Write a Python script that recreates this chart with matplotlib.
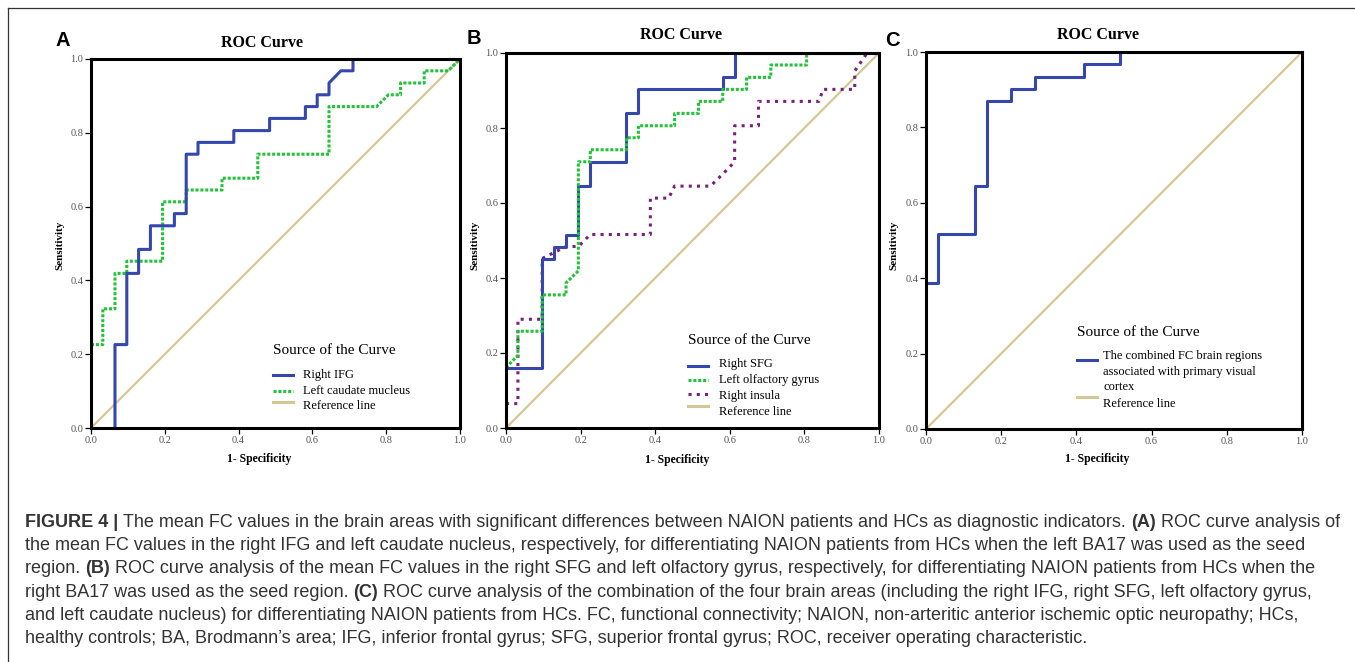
import matplotlib
matplotlib.use("Agg")
import matplotlib.pyplot as plt
from matplotlib.lines import Line2D

W, H = 1355, 662

# ---- data (ROC step paths) ----
# A: right IFG / left caudate nucleus
a_ifg_x = [0.065, 0.065, 0.097, 0.097, 0.129, 0.129, 0.161, 0.161, 0.226, 0.226, 0.258, 0.258, 0.290,
           0.290, 0.387, 0.387, 0.484, 0.484, 0.581, 0.581, 0.613, 0.613, 0.645, 0.645, 0.677, 0.710, 0.710, 1.0]
a_ifg_y = [0, 0.226, 0.226, 0.419, 0.419, 0.484, 0.484, 0.548, 0.548, 0.581, 0.581, 0.742, 0.742,
           0.774, 0.774, 0.806, 0.806, 0.839, 0.839, 0.871, 0.871, 0.903, 0.903, 0.935, 0.968, 0.968, 1.0, 1.0]
a_caud_x = [0, 0.032, 0.032, 0.065, 0.065, 0.097, 0.097, 0.194, 0.194, 0.258, 0.258, 0.355, 0.355,
            0.452, 0.452, 0.645, 0.645, 0.774, 0.806, 0.839, 0.839, 0.903, 0.903, 0.968, 1.0]
a_caud_y = [0.226, 0.226, 0.323, 0.323, 0.419, 0.419, 0.452, 0.452, 0.613, 0.613, 0.645, 0.645, 0.677,
            0.677, 0.742, 0.742, 0.871, 0.871, 0.903, 0.903, 0.935, 0.935, 0.968, 0.968, 1.0]

# B: right SFG / left olfactory gyrus / right insula
b_sfg_x = [0, 0.097, 0.097, 0.129, 0.129, 0.161, 0.161, 0.194, 0.194, 0.226, 0.226, 0.323, 0.323,
           0.355, 0.355, 0.581, 0.581, 0.613, 0.613, 1.0]
b_sfg_y = [0.161, 0.161, 0.452, 0.452, 0.484, 0.484, 0.516, 0.516, 0.645, 0.645, 0.710, 0.710, 0.839,
           0.839, 0.903, 0.903, 0.935, 0.935, 1.0, 1.0]
b_olf_x = [0, 0.032, 0.032, 0.097, 0.097, 0.161, 0.161, 0.194, 0.194, 0.226, 0.226, 0.323, 0.323, 0.355,
           0.355, 0.452, 0.452, 0.516, 0.516, 0.581, 0.581, 0.645, 0.645, 0.710, 0.710, 0.806, 0.806, 1.0]
b_olf_y = [0.161, 0.194, 0.258, 0.258, 0.355, 0.355, 0.387, 0.419, 0.710, 0.710, 0.742, 0.742, 0.774, 0.774,
           0.806, 0.806, 0.839, 0.839, 0.871, 0.871, 0.903, 0.903, 0.935, 0.935, 0.968, 0.968, 1.0, 1.0]
b_ins_x = [0, 0.032, 0.032, 0.097, 0.097, 0.161, 0.194, 0.226, 0.387, 0.387, 0.436, 0.452, 0.548,
           0.581, 0.613, 0.613, 0.677, 0.677, 0.839, 0.850, 0.935, 0.935, 0.968, 1.0]
b_ins_y = [0.065, 0.065, 0.290, 0.290, 0.452, 0.484, 0.484, 0.516, 0.516, 0.613, 0.613, 0.645, 0.645,
           0.677, 0.710, 0.806, 0.806, 0.871, 0.871, 0.903, 0.903, 0.952, 1.0, 1.0]

# C: combined regions
c_comb_x = [0, 0.032, 0.032, 0.129, 0.129, 0.161, 0.161, 0.226, 0.226, 0.290, 0.290, 0.419, 0.419,
            0.516, 0.516, 1.0]
c_comb_y = [0.387, 0.387, 0.516, 0.516, 0.645, 0.645, 0.871, 0.871, 0.903, 0.903, 0.935, 0.935, 0.968,
            0.968, 1.0, 1.0]

ref_x = [0, 1]
ref_y = [0, 1]
ticks = [0.0, 0.2, 0.4, 0.6, 0.8, 1.0]
tick_labels = ["0.0", "0.2", "0.4", "0.6", "0.8", "1.0"]

BLUE = "#3447ad"
GREEN = "#22c23a"
PURPLE = "#7a1f7a"
REF = "#d3c894"
SERIF = "Liberation Serif"
SANS = "Liberation Sans"

fig = plt.figure(figsize=(W / 100, H / 100), dpi=100)
fig.patch.set_facecolor("white")


def px_box(l, t, r, b):
    return [l / W, 1 - b / H, (r - l) / W, (b - t) / H]


def fx(x):
    return x / W


def fy(y):
    return 1 - y / H


def setup(ax):
    ax.set_xlim(0, 1)
    ax.set_ylim(0, 1)
    ax.set_xticks(ticks)
    ax.set_yticks(ticks)
    ax.set_xticklabels(tick_labels)
    ax.set_yticklabels(tick_labels)
    for s in ax.spines.values():
        s.set_linewidth(2.2)
        s.set_color("black")
        s.set_zorder(10)
    ax.tick_params(direction="out", length=4.5, width=0.9, pad=1, labelsize=7.5, labelcolor="#555555")
    for lab in ax.get_xticklabels() + ax.get_yticklabels():
        lab.set_family(SERIF)
    ax.plot(ref_x, ref_y, color=REF, lw=1.6, zorder=1)


def legend(x0, xt, title_y, rows):
    fig.text(fx(x0), fy(title_y), "Source of the Curve", family=SERIF, fontsize=11, va="center", ha="left")
    for hy, ty, label, color, ls, lw in rows:
        if hy is not None:
            fig.add_artist(Line2D([fx(x0), fx(x0 + 20)], [fy(hy), fy(hy)], color=color, ls=ls, lw=lw,
                                  transform=fig.transFigure))
        fig.text(fx(xt), fy(ty), label, family=SERIF, fontsize=9, va="center", ha="left")


green_ls = (0, (1, 0.6))
purple_ls = (0, (1, 1.7))

# ---- panel A ----
axA = fig.add_axes(px_box(91, 59, 460, 428))
setup(axA)
axA.plot(a_ifg_x, a_ifg_y, color=BLUE, lw=2.2, zorder=3)
axA.plot(a_caud_x, a_caud_y, color=GREEN, lw=2.2, ls=green_ls, zorder=2)
legend(273, 303, 350, [
    (375, 375, "Right IFG", BLUE, "-", 2.2),
    (391, 391, "Left caudate mucleus", GREEN, green_ls, 2.2),
    (402, 406, "Reference line", REF, "-", 2.2),
])

# ---- panel B ----
axB = fig.add_axes(px_box(506, 53, 879, 428))
setup(axB)
axB.plot(b_ins_x, b_ins_y, color=PURPLE, lw=2.2, ls=purple_ls, zorder=2)
axB.plot(b_olf_x, b_olf_y, color=GREEN, lw=2.2, ls=green_ls, zorder=3)
axB.plot(b_sfg_x, b_sfg_y, color=BLUE, lw=2.2, zorder=2.5)
legend(688, 719, 341, [
    (366, 364, "Right SFG", BLUE, "-", 2.2),
    (380, 380, "Left olfactory gyrus", GREEN, green_ls, 2.2),
    (394, 396, "Right insula", PURPLE, purple_ls, 2.2),
    (406, 412, "Reference line", REF, "-", 2.2),
])

# ---- panel C ----
axC = fig.add_axes(px_box(926, 52, 1302, 429))
setup(axC)
axC.plot(c_comb_x, c_comb_y, color=BLUE, lw=2.2, zorder=3)
legend(1077, 1103, 333, [
    (360, 356, "The combined FC brain regions", BLUE, "-", 2.2),
    (None, 372, "associated with primary visual", BLUE, "-", 2.2),
    (None, 387, "cortex", BLUE, "-", 2.2),
    (397, 404, "Reference line", REF, "-", 2.2),
])

# titles, panel letters, axis labels
for letter, lx, ly, tx, ty, ylx, xlx, xly in [
    ("A", 63, 40, 262, 43, 60, 259, 459),
    ("B", 474, 39, 681, 35, 475, 677, 460),
    ("C", 892, 40, 1098, 35, 894, 1097, 459),
]:
    fig.text(fx(lx), fy(ly), letter, family=SANS, weight="bold", fontsize=14.5, ha="center", va="center")
    fig.text(fx(tx), fy(ty), "ROC Curve", family=SERIF, weight="bold", fontsize=11.5, ha="center", va="center")
    fig.text(fx(ylx), fy(245), "Sensitivity", family=SERIF, weight="bold", fontsize=8, rotation=90,
             ha="center", va="center")
    fig.text(fx(xlx), fy(xly), "1- Specificity", family=SERIF, weight="bold", fontsize=8.5,
             ha="center", va="center")

# frame lines
fig.add_artist(Line2D([fx(8), 1], [fy(8), fy(8)], color="#333333", lw=0.9, transform=fig.transFigure))
fig.add_artist(Line2D([fx(8), fx(8)], [fy(8), 0], color="#333333", lw=0.9, transform=fig.transFigure))

# ---- caption ----
caption = [
    [("FIGURE 4 | ", True), ("The mean FC values in the brain areas with significant differences between NAION patients "
                             "and HCs as diagnostic indicators. ", False), ("(A)", True),
     (" ROC curve analysis of", False)],
    [("the mean FC values in the right IFG and left caudate nucleus, respectively, for differentiating NAION "
      "patients from HCs when the left BA17 was used as the seed", False)],
    [("region. ", False), ("(B)", True), (" ROC curve analysis of the mean FC values in the right SFG and left "
                                         "olfactory gyrus, respectively, for differentiating NAION patients from HCs when the", False)],
    [("right BA17 was used as the seed region. ", False), ("(C)", True),
     (" ROC curve analysis of the combination of the four brain areas (including the right IFG, right SFG, "
      "left olfactory gyrus,", False)],
    [("and left caudate nucleus) for differentiating NAION patients from HCs. FC, functional connectivity; "
      "NAION, non-arteritic anterior ischemic optic neuropathy; HCs,", False)],
    [("healthy controls; BA, Brodmann\u2019s area; IFG, inferior frontal gyrus; SFG, superior frontal gyrus; "
      "ROC, receiver operating characteristic.", False)],
]
renderer = fig.canvas.get_renderer()


def draw_caption_line(segs, x, y, fs, keep=True):
    made = []
    for txt, bold in segs:
        t = fig.text(fx(x), fy(y), txt, family=SANS, fontsize=fs, weight="bold" if bold else "normal",
                     color="#333333", ha="left", va="baseline")
        x += t.get_window_extent(renderer).width
        made.append(t)
    if not keep:
        for t in made:
            t.remove()
    return x


end = draw_caption_line(caption[0], 25, 527, 12, keep=False)
fs = 12 * (1343 - 25) / (end - 25)
for i, segs in enumerate(caption):
    draw_caption_line(segs, 25, 527 + i * 23.2, fs)

fig.savefig("out.png", dpi=100)
